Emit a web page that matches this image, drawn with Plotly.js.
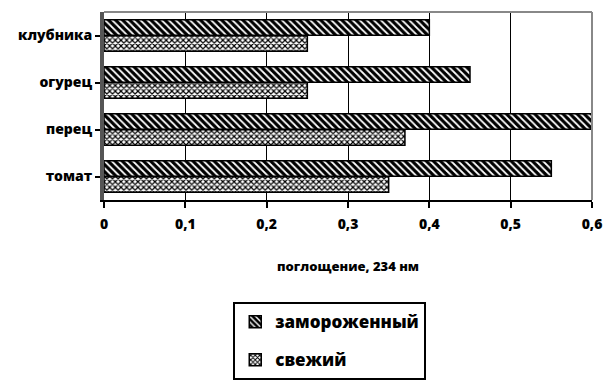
<!DOCTYPE html>
<html>
<head>
<meta charset="utf-8">
<script src="https://cdn.plot.ly/plotly-3.0.1.min.js"></script>
<style>html,body{margin:0;padding:0;background:#fff;}#chart{width:609px;height:383px;}</style>
</head>
<body>
<div id="chart"></div>
<script>
var categories = ['томат', 'перец', 'огурец', 'клубника'];
var frozenValues = [0.55, 0.60, 0.45, 0.40];
var freshValues = [0.35, 0.37, 0.25, 0.25];
var seriesNames = ['замороженный', 'свежий'];
var tickValues = [0, 0.1, 0.2, 0.3, 0.4, 0.5, 0.6];
var tickLabels = ['0', '0,1', '0,2', '0,3', '0,4', '0,5', '0,6'];
var axisTitle = 'поглощение, 234 нм';

var fontFam = '"Open Sans", "DejaVu Sans", sans-serif';

var traces = [
  {
    type: 'bar', orientation: 'h', name: seriesNames[1], legendgroup: 'b', legendrank: 2,
    y: categories, x: freshValues,
    marker: {color: '#ffffff', line: {color: '#000', width: 1.5},
      pattern: {shape: 'x', fgcolor: '#000', bgcolor: '#fff', size: 4, solidity: 0.5}}
  },
  {
    type: 'bar', orientation: 'h', name: seriesNames[0], legendgroup: 'a', legendrank: 1,
    y: categories, x: frozenValues,
    marker: {color: '#000000', line: {color: '#000', width: 1.5},
      pattern: {shape: '\\', fgcolor: '#ffffff', bgcolor: '#000000', size: 5, solidity: 0.35}}
  }
];

var layout = {
  width: 609, height: 383,
  margin: {l: 104, r: 17, t: 12, b: 183, autoexpand: false},
  paper_bgcolor: '#fff', plot_bgcolor: '#fff',
  barmode: 'group', bargap: 0.32, bargroupgap: 0.02,
  showlegend: true,
  font: {family: fontFam, color: '#000'},
  xaxis: {
    range: [0, 0.6], tickvals: tickValues, ticktext: tickLabels,
    showgrid: true, gridcolor: '#000', gridwidth: 1,
    showline: true, linecolor: '#000', linewidth: 2, mirror: false,
    ticks: 'outside', ticklen: 6, tickcolor: '#000', tickwidth: 2,
    ticklabelstandoff: 4,
    tickfont: {family: fontFam, size: 14, color: '#000', weight: 800},
    zeroline: false, fixedrange: true,
    title: {text: axisTitle, font: {family: fontFam, size: 13, color: '#000', weight: 800}, standoff: 30}
  },
  yaxis: {
    categoryorder: 'array', categoryarray: categories,
    showline: true, linecolor: '#555', linewidth: 4,
    ticks: 'outside', ticklen: 5, tickcolor: '#000', tickwidth: 2,
    tickfont: {family: fontFam, size: 14, color: '#000', weight: 800},
    showgrid: false, zeroline: false, fixedrange: true
  },
  legend: {
    xref: 'container', yref: 'container',
    x: 0.383, y: 0.211, xanchor: 'left', yanchor: 'top',
    traceorder: 'grouped', tracegroupgap: 13,
    bordercolor: '#000', borderwidth: 2, bgcolor: '#fff',
    font: {family: fontFam, size: 17, color: '#000', weight: 800},
    itemwidth: 30
  },
  shapes: [
    {type: 'line', xref: 'paper', yref: 'paper', x0: 0, x1: 1, y0: 1, y1: 1, line: {color: '#888', width: 2}},
    {type: 'line', xref: 'paper', yref: 'paper', x0: 1, x1: 1, y0: 0, y1: 1, line: {color: '#888', width: 2}}
  ]
};

Plotly.newPlot('chart', traces, layout, {displayModeBar: false, staticPlot: true});
</script>
</body>
</html>
